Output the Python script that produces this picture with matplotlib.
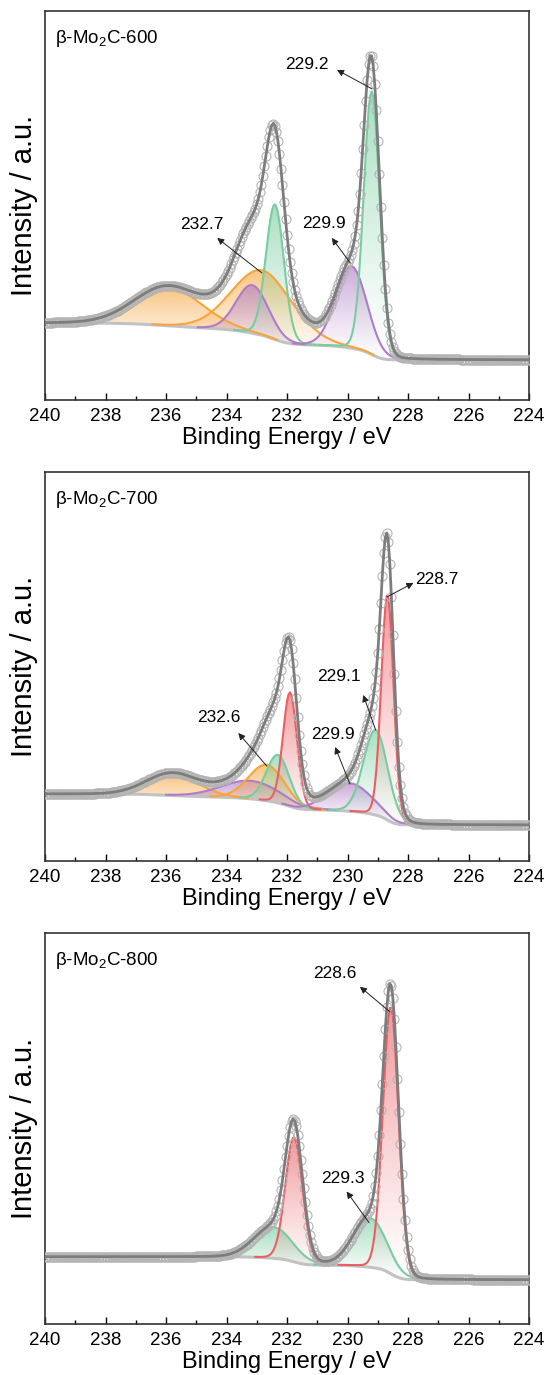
import numpy as np
import matplotlib.pyplot as plt
import matplotlib.colors as mcolors
from matplotlib.ticker import MultipleLocator

plt.rcParams['font.family'] = ['Liberation Sans', 'DejaVu Sans']
plt.rcParams['mathtext.fontset'] = 'custom'
plt.rcParams['mathtext.rm'] = 'Liberation Sans'

GREEN = '#78cda0'
PURPLE = '#b07cc8'
ORANGE = '#f6a53c'
RED = '#eb5f64'

# binding energy grid of the spectra (eV)
energy = np.arange(224.0, 240.001, 0.05)

# ---- beta-Mo2C-600 ----
name_600 = 'β-Mo$\\mathregular{_2}$C-600'
centers_600 = [235.93, 232.8, 233.15, 232.4, 229.87, 229.2]
heights_600 = [39, 65, 48, 135, 82, 263]
fwhm_600 = [2.6, 2.4, 1.25, 0.7, 1.2, 0.62]
colors_600 = [ORANGE, ORANGE, PURPLE, GREEN, PURPLE, GREEN]
bg_600 = (40, 77)
labels_600 = ['229.2', '232.7', '229.9']
label_xy_600 = [(231.35, 335), (234.83, 175), (230.79, 176)]
arrow_tail_600 = [(229.19, 311), (232.83, 127), (229.91, 137)]
arrow_head_600 = [(230.35, 330), (234.31, 162), (230.52, 162)]

# ---- beta-Mo2C-700 ----
name_700 = 'β-Mo$\\mathregular{_2}$C-700'
centers_700 = [235.8, 233.2, 232.67, 232.3, 231.9, 229.92, 229.07, 228.68]
heights_700 = [22, 18, 36, 48, 114, 28, 85, 225]
fwhm_700 = [2.0, 2.3, 1.4, 0.9, 0.55, 1.7, 0.95, 0.48]
colors_700 = [ORANGE, PURPLE, ORANGE, GREEN, RED, PURPLE, GREEN, RED]
bg_700 = (36, 67)
labels_700 = ['228.7', '229.1', '229.9', '232.6']
label_xy_700 = [(227.05, 281), (230.27, 184), (230.47, 126), (234.27, 143)]
arrow_tail_700 = [(228.7, 264), (229.07, 131), (229.92, 77), (232.67, 95)]
arrow_head_700 = [(227.82, 278), (229.48, 166), (230.41, 114), (233.61, 128)]

# ---- beta-Mo2C-800 ----
name_800 = 'β-Mo$\\mathregular{_2}$C-800'
centers_800 = [232.45, 231.77, 229.26, 228.57]
heights_800 = [31, 124, 49, 266]
fwhm_800 = [1.5, 0.67, 1.3, 0.61]
colors_800 = [GREEN, RED, GREEN, RED]
bg_800 = (44, 67)
labels_800 = ['228.6', '229.3']
label_xy_800 = [(230.41, 349), (230.14, 145)]
arrow_tail_800 = [(228.6, 311), (229.29, 101)]
arrow_head_800 = [(229.59, 336), (230.03, 132)]


def peak(x, c, h, w, eta=0.05):
    d = (x - c) ** 2 / w ** 2
    return h * ((1 - eta) * np.exp(-4 * np.log(2) * d) + eta / (1 + 4 * d))


def gradient_fill(ax, x, base, top, color):
    poly = ax.fill_between(x, base, top, facecolor='none', edgecolor='none')
    path = poly.get_paths()[0]
    grad = np.zeros((256, 1, 4))
    grad[:, :, :3] = mcolors.to_rgb(color)
    grad[:, 0, 3] = np.linspace(0.0, 0.7, 256) ** 1.2
    im = ax.imshow(grad, aspect='auto', origin='lower', zorder=1,
                   extent=[x.min(), x.max(), base.min(), top.max()])
    im.set_clip_path(path, transform=ax.transData)


def draw_panel(ax, name, centers, heights, fwhm, colors, bg, labels,
               label_xy, tails, heads):
    comps = [peak(energy, c, h, w) for c, h, w in zip(centers, heights, fwhm)]
    total = np.sum(comps, axis=0)
    # Shirley-type background from the summed peaks
    s = np.cumsum(total)
    back = bg[0] + (bg[1] - bg[0]) * s / s[-1]
    env = back + total

    for comp, col in zip(comps, colors):
        gradient_fill(ax, energy, back, back + comp, col)
    ax.plot(energy, back, color='#c2c2c2', lw=2.2, zorder=2)
    for comp, col in zip(comps, colors):
        line = np.where(comp > 0.4, back + comp, np.nan)
        ax.plot(energy, line, color=col, lw=1.5, zorder=3)
    ax.plot(energy, env, 'o', ms=6.5, mfc='none', mec='#b4b4b4', mew=0.8, zorder=4)
    ax.plot(energy, env, color='#7d7d7d', lw=2, zorder=5)

    for lab, (tx, ty), tail, head in zip(labels, label_xy, tails, heads):
        ax.text(tx, ty, lab, fontsize=12.5, ha='center', va='center', zorder=6)
        ax.annotate('', xy=head, xytext=tail, zorder=6,
                    arrowprops=dict(arrowstyle='-|>', color='#222222', lw=0.7,
                                    mutation_scale=10, shrinkA=0, shrinkB=0))

    ax.text(0.021, 0.93, name, transform=ax.transAxes, fontsize=13.5,
            ha='left', va='center')
    ax.set_xlim(240, 224)
    ax.set_ylim(0, 389)
    ax.set_xticks(np.arange(240, 223, -2))
    ax.xaxis.set_minor_locator(MultipleLocator(1))
    ax.set_yticks([])
    ax.tick_params(axis='x', which='major', direction='in', length=5, width=1,
                   labelsize=13.5, pad=6)
    ax.tick_params(axis='x', which='minor', direction='in', length=3, width=1)
    for sp in ax.spines.values():
        sp.set_linewidth(1.2)
        sp.set_color('#333333')
    ax.set_xlabel('Binding Energy / eV', fontsize=17, labelpad=1)
    ax.set_ylabel('Intensity / a.u.', fontsize=21)
    ax.yaxis.set_label_coords(-0.014, 0.5)


fig = plt.figure(figsize=(5.49, 13.75), dpi=100)
ax1 = fig.add_axes([0.082, 0.7091, 0.8816, 0.283])
ax2 = fig.add_axes([0.082, 0.3738, 0.8816, 0.283])
ax3 = fig.add_axes([0.082, 0.0371, 0.8816, 0.284])

draw_panel(ax1, name_600, centers_600, heights_600, fwhm_600, colors_600, bg_600,
           labels_600, label_xy_600, arrow_tail_600, arrow_head_600)
draw_panel(ax2, name_700, centers_700, heights_700, fwhm_700, colors_700, bg_700,
           labels_700, label_xy_700, arrow_tail_700, arrow_head_700)
draw_panel(ax3, name_800, centers_800, heights_800, fwhm_800, colors_800, bg_800,
           labels_800, label_xy_800, arrow_tail_800, arrow_head_800)

fig.savefig('out.png', dpi=100)
